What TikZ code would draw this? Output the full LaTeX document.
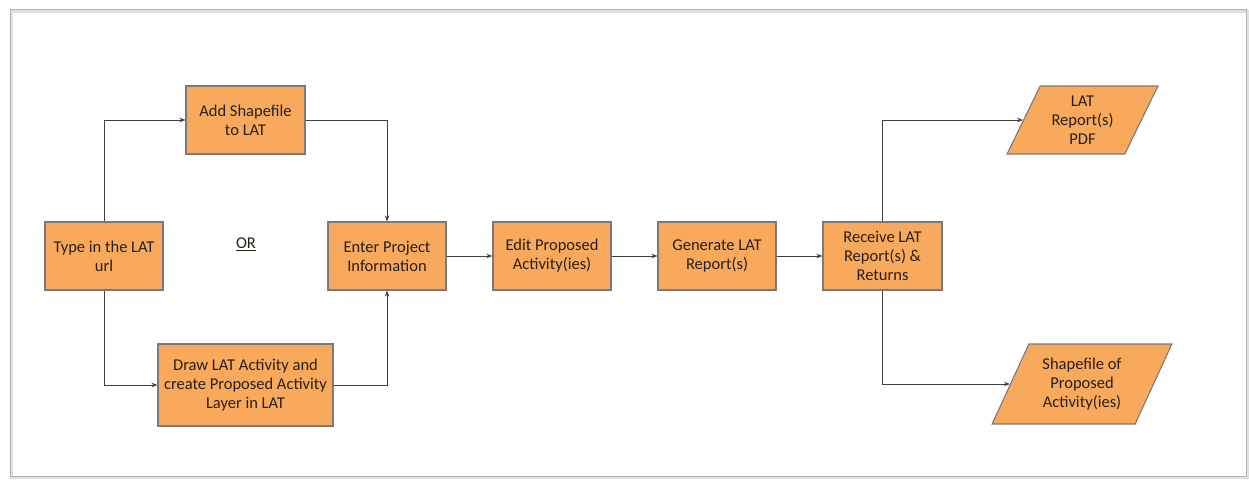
\documentclass[tikz,border=0pt]{standalone}
\usepackage{fontspec}
\setmainfont{Carlito}
\usetikzlibrary{arrows.meta,shapes.geometric}
\definecolor{boxfill}{HTML}{F9A95C}
\definecolor{boxline}{HTML}{7A7A7A}
\definecolor{linkcol}{HTML}{404040}
\definecolor{txtcol}{HTML}{262018}
\tikzset{
  base/.style={draw=boxline, fill=boxfill, line width=1.1pt, text=txtcol, align=center,
    font=\fontsize{16.5}{19}\selectfont, inner sep=1pt},
  procbox/.style={base, rectangle, minimum width=#1, minimum height=68pt},
  procbox/.default=118pt,
  iobox/.style={base, trapezium, trapezium left angle=#1, trapezium right angle={180-#1},
    trapezium stretches=true},
  link/.style={draw=linkcol, line width=1pt, -{Stealth[length=6pt,width=4.5pt]}},
}
\begin{document}
\begin{tikzpicture}[x=1pt,y=-1pt]
\useasboundingbox (0,0) rectangle (1249,479);
\fill[white] (0,0) rectangle (1249,479);
\draw[black!12, line width=3pt] (11,11) rectangle (1247,477);
\draw[black!30, line width=1pt] (10,9) rectangle (1246,476);

\node[procbox] (type) at (104,256) {Type in the LAT\\url};
\node[procbox=119pt] (add) at (245.5,120) {Add Shapefile\\to LAT};
\node[procbox=175pt, minimum height=82pt] (drw) at (245.5,385) {Draw LAT Activity and\\create Proposed Activity\\Layer in LAT};
\node[procbox] (enter) at (387,256) {Enter Project\\Information};
\node[procbox] (edit) at (552,256) {Edit Proposed\\Activity(ies)};
\node[procbox] (gen) at (717,256) {Generate LAT\\Report(s)};
\node[procbox=119pt] (recv) at (882.5,256) {Receive LAT\\Report(s) \&\\Returns};
\node[iobox=63.4, minimum width=151pt, minimum height=68pt, inner sep=0pt] (pdf) at (1082.5,120) {LAT\\Report(s)\\PDF};
\node[iobox=62.3, minimum width=180pt, minimum height=80pt, inner sep=0pt] (shp) at (1082,384) {Shapefile of\\Proposed\\Activity(ies)};
\node[text=txtcol, font=\fontsize{16.5}{19}\selectfont] (or) at (246,244) {\underline{OR}};

\draw[link] (type.north) |- (add.west);
\draw[link] (add.east) -| (enter.north);
\draw[link] (type.south) |- (drw.west);
\draw[link] (drw.east) -| (enter.south);
\draw[link] (enter) -- (edit);
\draw[link] (edit) -- (gen);
\draw[link] (gen) -- (recv);
\draw[link] (recv.north) |- (pdf.west);
\draw[link] (recv.south) |- (shp.west);
\end{tikzpicture}
\end{document}
